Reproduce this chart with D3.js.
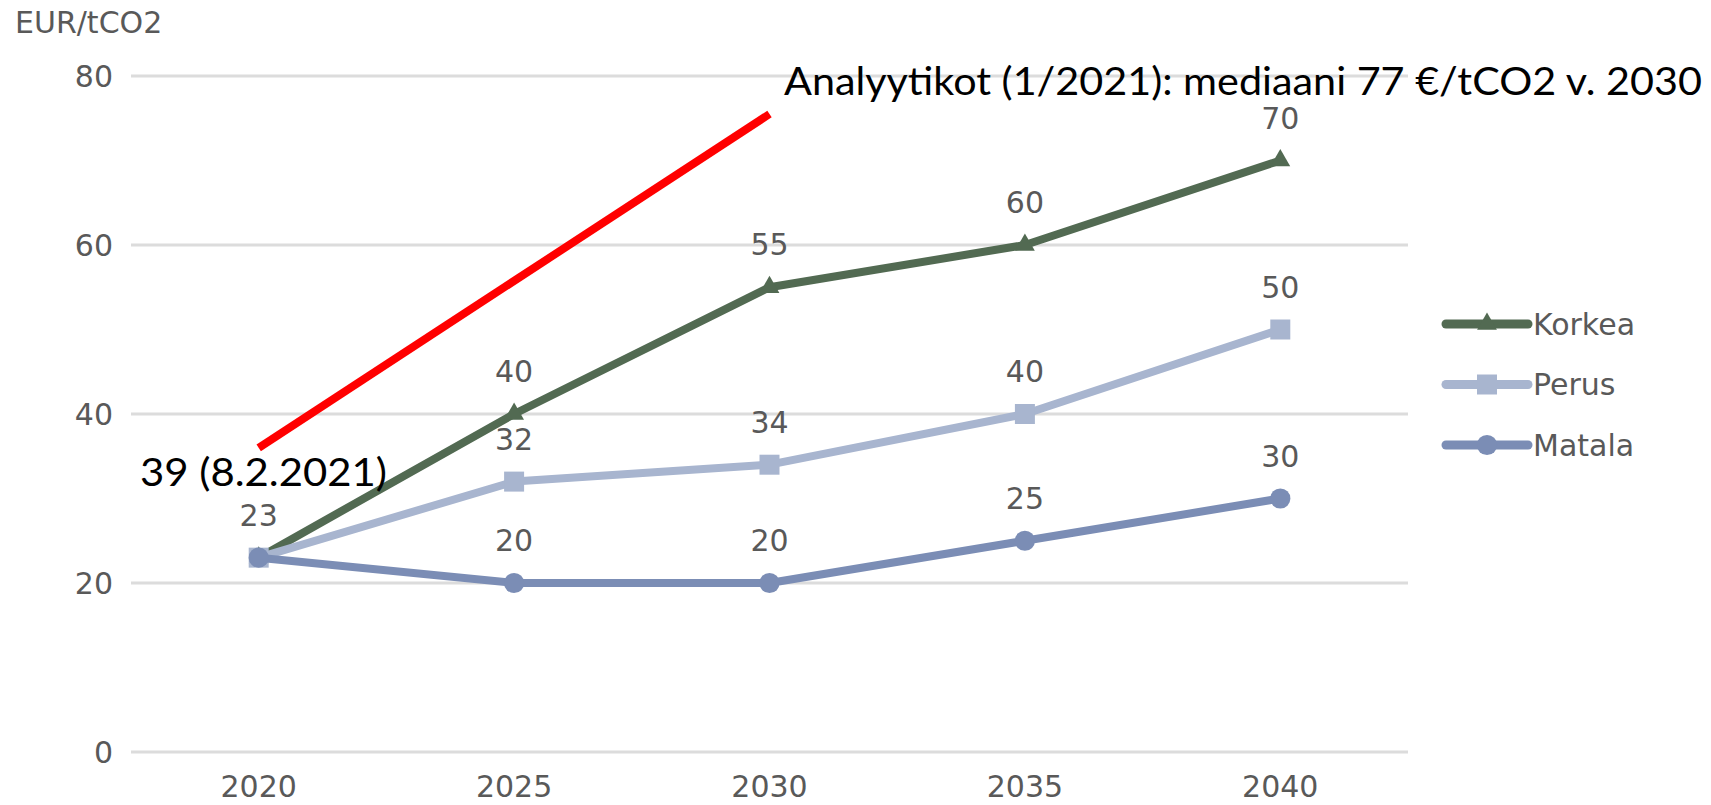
<!DOCTYPE html>
<html>
<head>
<meta charset="utf-8">
<script src="https://cdn.jsdelivr.net/npm/d3@7"></script>
<style>
  html, body { margin: 0; padding: 0; background: #fff; }
  svg { display: block; }
</style>
</head>
<body>
<script>
// chart data
var years = ['2020', '2025', '2030', '2035', '2040'];
var seriesNames = ['Korkea', 'Perus', 'Matala'];
var korkea = [23, 40, 55, 60, 70];
var perus = [23, 32, 34, 40, 50];
var matala = [23, 20, 20, 25, 30];
var yTicks = [0, 20, 40, 60, 80];
// red analyst line: from 39 today towards 77 in 2030 (as drawn)
var redYears = ['2020', '2030'];
var redValues = [36, 75.5];

var width = 1711;
var height = 805;

var colors = {Korkea: '#526a52', Perus: '#a8b5cf', Matala: '#7b8db5'};
var symbols = {Korkea: d3.symbolTriangle, Perus: d3.symbolSquare, Matala: d3.symbolCircle};
var symbolSize = {Korkea: 170, Perus: 400, Matala: 320};
var seriesData = {Korkea: korkea, Perus: perus, Matala: matala};

var svg = d3.select('body')
  .append('svg')
  .attr('width', width)
  .attr('height', height);

// scales
var x = d3.scalePoint()
  .domain(years)
  .range([131, 1408])
  .padding(0.5);

var y = d3.scaleLinear()
  .domain([0, 80])
  .range([752, 76]);

var tickFont = 'DejaVu Sans, Verdana, sans-serif';
var fontSize = '30px';
var grey = '#595959';

// gridlines
svg.append('g')
  .selectAll('line')
  .data(yTicks)
  .enter()
  .append('line')
  .attr('x1', 131)
  .attr('x2', 1408)
  .attr('y1', function(d) { return y(d); })
  .attr('y2', function(d) { return y(d); })
  .attr('stroke', '#dcdcdc')
  .attr('stroke-width', 3);

// y axis labels
svg.append('g')
  .selectAll('text')
  .data(yTicks)
  .enter()
  .append('text')
  .attr('x', 113)
  .attr('y', function(d) { return y(d); })
  .attr('dy', '0.36em')
  .attr('text-anchor', 'end')
  .style('font-family', tickFont)
  .style('font-size', fontSize)
  .style('fill', grey)
  .text(function(d) { return d; });

// unit label
svg.append('text')
  .attr('x', 15)
  .attr('y', 33)
  .style('font-family', tickFont)
  .style('font-size', fontSize)
  .style('fill', grey)
  .text('EUR/tCO2');

// x axis labels
svg.append('g')
  .selectAll('text')
  .data(years)
  .enter()
  .append('text')
  .attr('x', function(d) { return x(d); })
  .attr('y', 797)
  .attr('text-anchor', 'middle')
  .style('font-family', tickFont)
  .style('font-size', fontSize)
  .style('fill', grey)
  .text(function(d) { return d; });

// series lines and markers
var line = d3.line()
  .x(function(d) { return x(d.year); })
  .y(function(d) { return y(d.value); });

seriesNames.forEach(function(name) {
  var pts = years.map(function(yr, i) {
    return {year: yr, value: seriesData[name][i]};
  });
  var g = svg.append('g');
  g.append('path')
    .datum(pts)
    .attr('d', line)
    .attr('fill', 'none')
    .attr('stroke', colors[name])
    .attr('stroke-width', 8)
    .attr('stroke-linejoin', 'round');
  g.selectAll('path.marker')
    .data(pts)
    .enter()
    .append('path')
    .attr('class', 'marker')
    .attr('d', d3.symbol().type(symbols[name]).size(symbolSize[name]))
    .attr('transform', function(d) {
      return 'translate(' + x(d.year) + ',' + y(d.value) + ')';
    })
    .attr('fill', colors[name]);
});

// data labels (skip duplicates at the same spot)
var seen = {};
var labelData = [];
seriesNames.forEach(function(name) {
  years.forEach(function(yr, i) {
    var key = yr + '-' + seriesData[name][i];
    if (!seen[key]) {
      seen[key] = true;
      labelData.push({year: yr, value: seriesData[name][i]});
    }
  });
});

svg.append('g')
  .selectAll('text')
  .data(labelData)
  .enter()
  .append('text')
  .attr('x', function(d) { return x(d.year); })
  .attr('y', function(d) { return y(d.value) - 32; })
  .attr('text-anchor', 'middle')
  .style('font-family', tickFont)
  .style('font-size', fontSize)
  .style('fill', grey)
  .text(function(d) { return d.value; });

// legend
var legend = svg.append('g')
  .selectAll('g')
  .data(seriesNames)
  .enter()
  .append('g')
  .attr('transform', function(d, i) {
    return 'translate(0,' + (324 + i * 60.5) + ')';
  });

legend.append('line')
  .attr('x1', 1446)
  .attr('x2', 1528)
  .attr('stroke', function(d) { return colors[d]; })
  .attr('stroke-width', 9)
  .attr('stroke-linecap', 'round');

legend.append('path')
  .attr('d', function(d) { return d3.symbol().type(symbols[d]).size(symbolSize[d])(); })
  .attr('transform', 'translate(1487,0)')
  .attr('fill', function(d) { return colors[d]; });

legend.append('text')
  .attr('x', 1533)
  .attr('dy', '0.36em')
  .style('font-family', tickFont)
  .style('font-size', fontSize)
  .style('fill', grey)
  .text(function(d) { return d; });

// red analyst line
svg.append('line')
  .attr('x1', x(redYears[0]))
  .attr('y1', y(redValues[0]))
  .attr('x2', x(redYears[1]))
  .attr('y2', y(redValues[1]))
  .attr('stroke', '#ff0000')
  .attr('stroke-width', 8);

// annotations
svg.append('text')
  .attr('x', 784)
  .attr('y', 95)
  .attr('textLength', 918)
  .attr('lengthAdjust', 'spacingAndGlyphs')
  .style('font-family', 'Lato, sans-serif')
  .style('font-size', '39px')
  .style('fill', '#000')
  .text('Analyytikot (1/2021): mediaani 77 €/tCO2 v. 2030');

svg.append('text')
  .attr('x', 140)
  .attr('y', 486)
  .attr('textLength', 247)
  .attr('lengthAdjust', 'spacingAndGlyphs')
  .style('font-family', 'Lato, sans-serif')
  .style('font-size', '39px')
  .style('fill', '#000')
  .text('39 (8.2.2021)');
</script>
</body>
</html>
